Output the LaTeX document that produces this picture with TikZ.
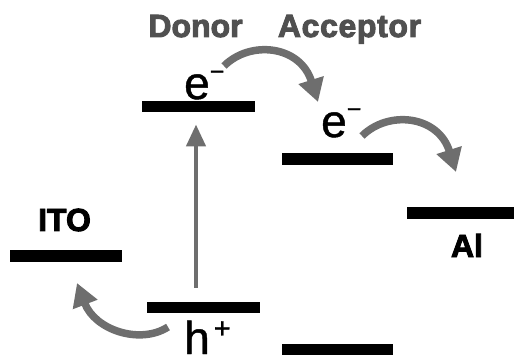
\documentclass[tikz,border=0pt]{standalone}
\usepackage{fontspec}
\setmainfont{Liberation Sans}
\newfontfamily\heavylbl[BoldFeatures={FakeBold=3}]{Liberation Sans}
\newfontfamily\carrierfont[FakeBold=1]{Liberation Sans}
\usetikzlibrary{arrows.meta}
\definecolor{arrgray}{HTML}{6E6E6E}
\definecolor{txtgray}{HTML}{505050}
\begin{document}
\begin{tikzpicture}[x=1pt,y=-1pt,
  bar/.style={fill=black,inner sep=0pt,minimum height=11.5pt},
  boldlbl/.style={inner sep=0pt,font=\heavylbl\fontsize{32}{32}\selectfont\bfseries},
  carrier/.style={inner sep=0pt,font=\carrierfont\fontsize{46}{46}\selectfont},
  hop/.style={draw=arrgray,line width=7.5pt,-{Triangle[length=23pt,width=25pt]}},
  excite/.style={draw=arrgray,line width=4.5pt,-{Triangle[length=22pt,width=19pt]}}]
\useasboundingbox (0,0) rectangle (514,358);
% energy levels
\node[bar,minimum width=113pt] (dl) at (198.5,106.5) {};
\node[bar,minimum width=111pt] (al) at (337.5,159) {};
\node[bar,minimum width=107pt] (alm) at (460.5,213) {};
\node[bar,minimum width=112pt] (ito) at (66,256) {};
\node[bar,minimum width=113pt] (dh) at (203.5,307.5) {};
\node[bar,minimum width=111pt] (ah) at (337.5,349.5) {};
% labels
\node[boldlbl,text=txtgray,anchor=base] (tdonor) at (195.5,37) {Donor};
\node[boldlbl,text=txtgray,anchor=base] (taccept) at (349.5,37) {\addfontfeatures{LetterSpace=2}Acceptor};
\node[boldlbl,anchor=base] (tito) at (64.5,231) {ITO};
\node[boldlbl,anchor=base] (tal) at (467,257) {Al};
\node[carrier,anchor=base west] (ed) at (184,99) {e\raisebox{19pt}{\fontsize{25}{25}\selectfont −}};
\node[carrier,anchor=base west] (ea) at (321,137) {e\raisebox{19.5pt}{\fontsize{25}{25}\selectfont −}};
\node[carrier,anchor=base west] (hd) at (184,354) {h\hspace{4pt}\raisebox{16pt}{\fontsize{29}{29}\selectfont +}};
% arrow end points
\coordinate (a1s) at (224,66);
\coordinate (a1e) at (318,102);
\coordinate (a2s) at (362,136);
\coordinate (a2e) at (456,172);
\coordinate (a3s) at (168,327);
\coordinate (a3e) at (77,283);
% connectors
\draw[excite] ([xshift=-7.5pt,yshift=14pt]dh.north) -- ([xshift=-2.5pt,yshift=-12pt]dl.south);
\draw[hop] (a1s) .. controls ++(26,-26) and ++(-18,-57) .. (a1e);
\draw[hop] (a2s) .. controls ++(26,-26) and ++(-18,-57) .. (a2e);
\draw[hop] (a3s) .. controls ++(-28,18) and ++(18,47) .. (a3e);
\end{tikzpicture}
\end{document}
